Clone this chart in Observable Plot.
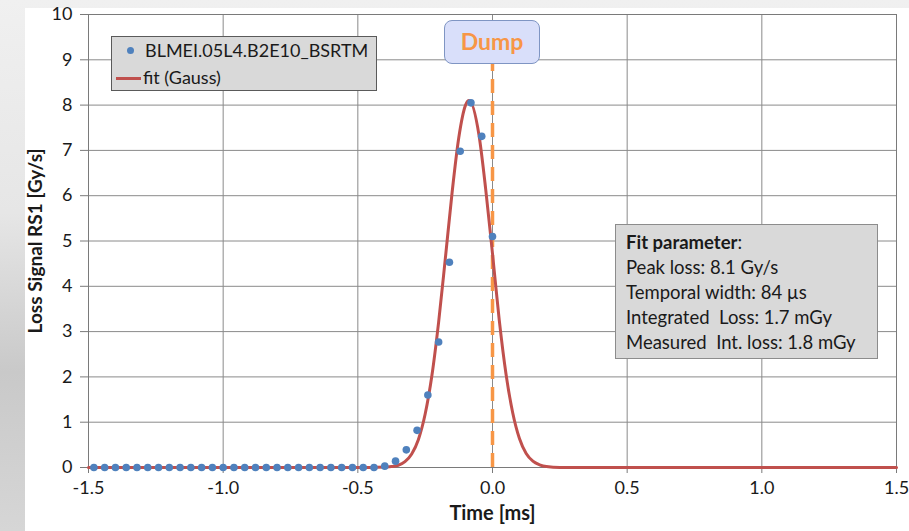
<!DOCTYPE html>
<html>
<head>
<meta charset="utf-8">
<script src="https://cdn.jsdelivr.net/npm/d3@7"></script>
<script src="https://cdn.jsdelivr.net/npm/@observablehq/plot@0.6"></script>
<style>
  html, body { margin: 0; padding: 0; }
  body {
    width: 909px; height: 531px; overflow: hidden;
    background: linear-gradient(to bottom, #f0f0f0 0%, #e6e6e6 40%, #c9c9c9 70%, #d6d6d6 100%);
    font-family: Lato, "Open Sans", sans-serif;
  }
  #wrap { position: relative; width: 909px; height: 531px; }
  #paper { position: absolute; left: 25px; top: 8px; right: 0; bottom: 0; background: #fff; }
  #chart { position: absolute; left: 0; top: 0; }
  .box { position: absolute; box-sizing: border-box; color: #1a1a1a; font-size: 18px; }
  #legend { left: 111px; top: 36px; width: 266px; height: 55px; background: #d9d9d9; border: 1px solid #5a5a5a; }
  .lrow { position: absolute; left: 0; height: 26px; line-height: 26px; white-space: nowrap; }
  #fitbox { left: 615px; top: 224px; width: 263px; height: 135px; background: #d9d9d9; border: 1px solid #8c8c8c; padding: 5px 0 0 10px; line-height: 25px; font-size: 18.5px; }
  #dump { left: 444px; top: 20px; width: 96px; height: 44px; background: #d9dffa; border: 1.5px solid #7f95c3; border-radius: 8px;
          color: #f79646; font-weight: bold; font-size: 23px; text-align: center; line-height: 40px; }
</style>
</head>
<body>
<div id="wrap">
  <div id="paper"></div>
  <div id="chart"></div>
</div>
<script>
// Measured data: BLMEI.05L4.B2E10_BSRTM
const sampleTime = [-1.48,-1.44,-1.40,-1.36,-1.32,-1.28,-1.24,-1.20,-1.16,-1.12,-1.08,-1.04,-1.00,-0.96,-0.92,-0.88,-0.84,-0.80,-0.76,-0.72,-0.68,-0.64,-0.60,-0.56,-0.52,-0.48,-0.44,-0.40,-0.36,-0.32,-0.28,-0.24,-0.20,-0.16,-0.12,-0.08,-0.04,0.00];
const sampleLoss = [0,0,0,0,0,0,0,0,0,0,0,0,0,0,0,0,0,0,0,0,0,0,0,0,0,0,0,0.03,0.14,0.39,0.82,1.60,2.77,4.53,6.98,8.05,7.31,5.10];

// Fit (Gauss) curve
const fitTime = [-1.5,-0.45,-0.40,-0.375,-0.35,-0.325,-0.30,-0.275,-0.25,-0.225,-0.20,-0.175,-0.15,-0.125,-0.10,-0.087,-0.05,-0.025,0.00,0.025,0.05,0.075,0.10,0.125,0.15,0.175,0.20,0.25,0.30,1.5];
const fitLoss = [0,0,0.01,0.02,0.05,0.13,0.30,0.62,1.18,2.03,3.21,4.62,6.07,7.29,8.00,8.10,7.33,6.13,4.72,3.26,2.07,1.21,0.64,0.31,0.14,0.06,0.02,0,0,0];

const xTicks = [-1.5,-1.0,-0.5,0.0,0.5,1.0,1.5];
const yTicks = [0,1,2,3,4,5,6,7,8,9,10];
const dumpTime = [0];
const dumpTop = 8.92;

const legendLabels = ["BLMEI.05L4.B2E10_BSRTM", "fit (Gauss)"];
const fitTitle = "Fit parameter";
const fitLines = ["Peak loss: 8.1 Gy/s", "Temporal width: 84 µs", "Integrated  Loss: 1.7 mGy", "Measured  Int. loss: 1.8 mGy"];

const samples = sampleTime.map((t, i) => ({t, v: sampleLoss[i]}));
const fit = fitTime.map((t, i) => ({t, v: fitLoss[i]}));

const gridColor = "#8a8a8a";
const plot = Plot.plot({
  width: 909, height: 531,
  marginLeft: 88, marginRight: 13, marginTop: 14, marginBottom: 64,
  style: {background: "transparent", fontFamily: "Lato, 'Open Sans', sans-serif", fontSize: "18px", color: "#1a1a1a"},
  x: {domain: [-1.5, 1.5]},
  y: {domain: [0, 10]},
  marks: [
    Plot.gridX(xTicks, {stroke: gridColor, strokeOpacity: 1, strokeWidth: 1}),
    Plot.gridY(yTicks, {stroke: gridColor, strokeOpacity: 1, strokeWidth: 1}),
    Plot.frame({stroke: "#7a7a7a", strokeWidth: 1}),
    Plot.axisX(xTicks, {tickSize: 6, tickPadding: 8, stroke: "#7a7a7a", tickFormat: d => d.toFixed(1), label: null, fontSize: 18}),
    Plot.axisY(yTicks, {tickSize: 8, tickPadding: 8, stroke: "#7a7a7a", label: null, fontSize: 18}),
    Plot.ruleX(dumpTime, {y1: 0, y2: dumpTop, stroke: "#f79646", strokeWidth: 3.5, strokeDasharray: "14,8"}),
    Plot.line(fit, {x: "t", y: "v", stroke: "#c0504d", strokeWidth: 3, curve: "monotone-x"}),
    Plot.dot(samples, {x: "t", y: "v", r: 3.8, fill: "#4f81bd", stroke: "none"}),
    Plot.text(["Time [ms]"], {frameAnchor: "bottom", dy: 52, fontWeight: "bold", fontSize: 20}),
    Plot.text(["Loss Signal RS1 [Gy/s]"], {frameAnchor: "left", textAnchor: "middle", dx: -53, rotate: -90, fontWeight: "bold", fontSize: 19})
  ]
});
document.getElementById("chart").appendChild(plot);

const wrap = document.getElementById("wrap");
// Legend
const legend = document.createElement("div");
legend.className = "box"; legend.id = "legend";
legend.innerHTML =
  `<div class="lrow" style="top:0px;left:15px;"><span style="display:inline-block;width:7px;height:7px;border-radius:50%;background:#4f81bd;vertical-align:middle;margin-right:11px;position:relative;top:-2px;"></span>${legendLabels[0]}</div>` +
  `<div class="lrow" style="top:27px;left:4px;"><span style="display:inline-block;width:25px;height:3px;background:#c0504d;vertical-align:middle;margin-right:2px;position:relative;top:-1px;"></span>${legendLabels[1]}</div>`;
wrap.appendChild(legend);
// Dump label
const dump = document.createElement("div");
dump.className = "box"; dump.id = "dump"; dump.textContent = "Dump";
wrap.appendChild(dump);
// Fit parameter box
const fb = document.createElement("div");
fb.className = "box"; fb.id = "fitbox";
fb.innerHTML = `<div><b>${fitTitle}</b>:</div>` + fitLines.map(s => `<div style="white-space:pre">${s}</div>`).join("");
wrap.appendChild(fb);
</script>
</body>
</html>
